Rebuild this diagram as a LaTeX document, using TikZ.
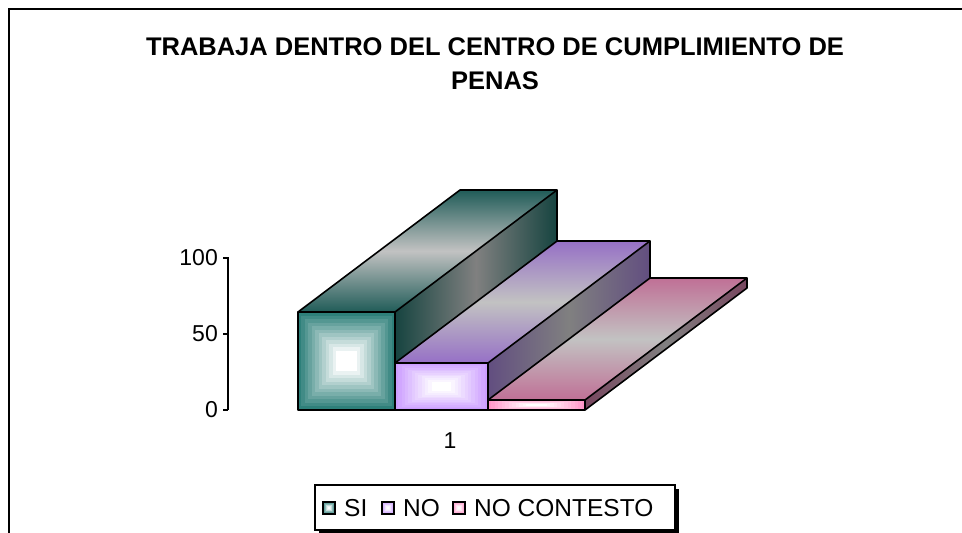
\documentclass[tikz,border=0pt]{standalone}
\usepackage{fontspec}
\setmainfont{Liberation Sans}
\definecolor{siFront}{RGB}{46,128,122}
\definecolor{siTop}{RGB}{32,92,88}
\definecolor{siSide}{RGB}{22,68,64}
\definecolor{noFront}{RGB}{204,158,255}
\definecolor{noTop}{RGB}{150,112,198}
\definecolor{noSide}{RGB}{98,78,128}
\definecolor{ncFront}{RGB}{255,150,200}
\definecolor{ncTop}{RGB}{192,112,150}
\definecolor{ncSide}{RGB}{120,70,95}
\definecolor{barmid}{RGB}{194,194,194}
\definecolor{sidemid}{RGB}{128,128,128}
\tikzset{
  barline/.style={draw=black,line width=1.6pt,line join=round},
  axisline/.style={draw=black,line width=1.2pt},
  ticklabel/.style={font=\fontsize{23}{26}\selectfont,inner sep=0pt},
  titletext/.style={font=\fontsize{25.5}{29}\selectfont\bfseries,inner sep=0pt},
  legendtext/.style={font=\fontsize{24.5}{28}\selectfont,inner sep=0pt,anchor=west},
}
% nested stepped front face: x0,x1,ytop,ybot,colour
\newcommand\frontface[5]{%
  \foreach \i in {0,...,11}{%
    \pgfmathsetmacro\fx{((#2)-(#1))*0.5*0.86*\i/12}%
    \pgfmathsetmacro\fy{((#4)-(#3))*0.5*0.86*\i/12}%
    \pgfmathtruncatemacro\pc{100*\i/11}%
    \fill[white!\pc!#5] ({(#1)+\fx},{(#3)+\fy}) rectangle ({(#2)-\fx},{(#4)-\fy});
  }%
}
% bar: x0,x1,ytop,front,top,side
\newcommand\chartbar[6]{%
  \shade[top color=#5,bottom color=#5,middle color=barmid]
    (#1,#3) -- (#2,#3) -- (#2+162,#3-122) -- (#1+162,#3-122) -- cycle;
  \shade[left color=#6,right color=#6,middle color=sidemid]
    (#2,#3) -- (#2+162,#3-122) -- (#2+162,288) -- (#2,410) -- cycle;
  \frontface{#1}{#2}{#3}{410}{#4}
  \draw[barline] (#1,#3) rectangle (#2,410);
  \draw[barline] (#1,#3) -- (#1+162,#3-122) -- (#2+162,#3-122) -- (#2,#3);
  \draw[barline] (#2+162,#3-122) -- (#2+162,288) -- (#2,410);
}
\newcommand\legendmark[3]{% x, y centre, colour
  \frontface{#1-6}{#1+6}{#2-6}{#2+6}{#3}
  \draw[black,line width=1.2pt] (#1-6,#2-6) rectangle (#1+6,#2+6);
}
\begin{document}
\begin{tikzpicture}[x=1pt,y=-1pt]
\useasboundingbox (0,0) rectangle (962,533);
\fill[white] (0,0) rectangle (962,533);
% outer frame
\draw[line width=2pt] (962,9) -- (9,9) -- (9,533);
% title
\node[titletext] (title1) at (495,47) {TRABAJA DENTRO DEL CENTRO DE CUMPLIMIENTO DE};
\node[titletext] (title2) at (495,81) {PENAS};
% axis
\draw[axisline] (228,257) -- (228,410);
\foreach \yy in {258,334,410} \draw[axisline] (223,\yy) -- (228,\yy);
\node[ticklabel,anchor=east] (l100) at (218,258) {100};
\node[ticklabel,anchor=east] (l50) at (218,334) {50};
\node[ticklabel,anchor=east] (l0) at (218,410) {0};
% bars
\chartbar{298}{395}{312}{siFront}{siTop}{siSide}
\chartbar{395}{488}{363}{noFront}{noTop}{noSide}
\chartbar{488}{585}{400}{ncFront}{ncTop}{ncSide}
% category label
\node[ticklabel] (cat1) at (450,441) {1};
% legend
\fill[black] (319,489) rectangle (679,536);
\draw[fill=white,line width=1.2pt] (315,485) rectangle (675,530);
\legendmark{329}{508}{siFront}
\node[legendtext] (lsi) at (344,508) {SI};
\legendmark{388}{508}{noFront}
\node[legendtext] (lno) at (403,508) {NO};
\legendmark{459}{508}{ncFront}
\node[legendtext] (lnc) at (474,508) {NO CONTESTO};
\end{tikzpicture}
\end{document}
